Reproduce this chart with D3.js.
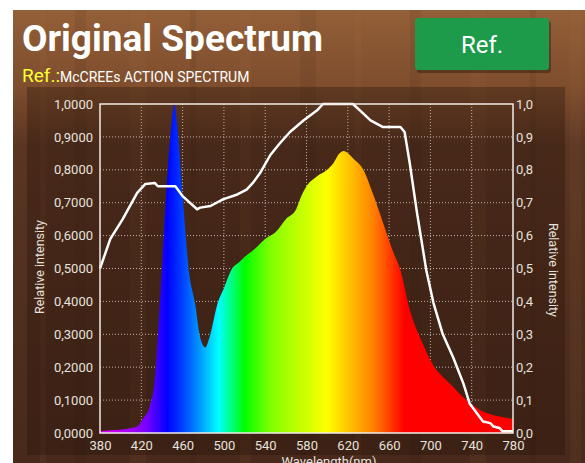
<!DOCTYPE html>
<html>
<head>
<meta charset="utf-8">
<script src="https://cdn.jsdelivr.net/npm/d3@7"></script>
<style>
  html, body { margin: 0; padding: 0; background: #fff; }
  svg { display: block; font-family: Roboto, "Noto Sans", sans-serif; }
</style>
</head>
<body>
<svg id="chart" width="585" height="463"></svg>
<script>
// LED spectrum, relative intensity by wavelength
const spectrumWl = [380, 390, 400, 410, 416, 422, 428, 433, 436, 440, 444, 449, 452, 455, 460, 466, 472, 477, 482, 486, 494, 500, 508, 515, 520, 530, 540, 550, 560, 570, 575, 580, 590, 600, 606, 612, 616, 620, 625, 635, 644, 654, 664, 671, 680, 690, 702, 719, 735, 748, 767, 780];
const spectrumVal = [0.005, 0.008, 0.01, 0.015, 0.02, 0.045, 0.08, 0.16, 0.29, 0.50, 0.72, 0.93, 1.0, 0.93, 0.72, 0.495, 0.395, 0.29, 0.26, 0.29, 0.395, 0.44, 0.50, 0.52, 0.535, 0.56, 0.59, 0.61, 0.65, 0.68, 0.72, 0.75, 0.78, 0.80, 0.82, 0.85, 0.857, 0.85, 0.835, 0.80, 0.73, 0.64, 0.55, 0.495, 0.374, 0.29, 0.21, 0.15, 0.10, 0.07, 0.05, 0.043];

// McCree action spectrum (reference curve)
const mccreeWl = [380, 390, 402, 416, 424, 433, 436, 453, 460, 474, 477, 487, 499, 513, 522, 528, 535, 545, 554, 564, 577, 590, 596, 625, 632, 642, 651, 654, 671, 675, 680, 687, 696, 703, 712, 722, 732, 738, 745, 751, 758, 761, 767, 770, 780];
const mccreeVal = [0.50, 0.59, 0.65, 0.73, 0.757, 0.76, 0.75, 0.75, 0.72, 0.68, 0.685, 0.69, 0.71, 0.725, 0.74, 0.76, 0.79, 0.845, 0.88, 0.915, 0.95, 0.98, 1.0, 1.0, 0.98, 0.95, 0.935, 0.93, 0.93, 0.915, 0.82, 0.67, 0.495, 0.395, 0.30, 0.23, 0.15, 0.09, 0.06, 0.035, 0.03, 0.02, 0.015, 0.005, 0.005];

const xTicks = [380, 420, 460, 500, 540, 580, 620, 660, 700, 740, 780];
const yTicks = [0, 0.1, 0.2, 0.3, 0.4, 0.5, 0.6, 0.7, 0.8, 0.9, 1.0];

// rainbow stops along the wavelength axis
const gradWl = [380, 405, 425, 445, 460, 475, 495, 520, 545, 600, 645, 675, 780];
const gradColor = ["#e600e6", "#b000ff", "#7a00ff", "#0000ff", "#0040ff", "#0090ff", "#00ffff", "#00ff00", "#80ff00", "#ffff00", "#ff8000", "#ff0000", "#ff0000"];

const svg = d3.select("#chart");
const W = 585, H = 463;
const plot = {left: 100, right: 513, top: 104, bottom: 433};

const x = d3.scaleLinear().domain([380, 780]).range([plot.left, plot.right]);
const y = d3.scaleLinear().domain([0, 1]).range([plot.bottom, plot.top]);

const defs = svg.append("defs");

// wood-ish background
const bg = defs.append("linearGradient").attr("id", "woodGrad")
  .attr("x1", 0).attr("y1", 0).attr("x2", 0).attr("y2", 1);
bg.append("stop").attr("offset", "0%").attr("stop-color", "#935f38");
bg.append("stop").attr("offset", "17%").attr("stop-color", "#7e4d2d");
bg.append("stop").attr("offset", "30%").attr("stop-color", "#5a3522");
bg.append("stop").attr("offset", "100%").attr("stop-color", "#48291b");

svg.append("rect").attr("x", 13).attr("y", 10).attr("width", W - 13).attr("height", H - 10)
  .attr("fill", "url(#woodGrad)");

// a few grain streaks
const streaks = [40, 75, 130, 190, 240, 300, 355, 410, 470, 530, 570];
svg.append("g").selectAll("rect").data(streaks).enter().append("rect")
  .attr("x", d => d).attr("y", 10).attr("width", (d, i) => 6 + (i % 3) * 5).attr("height", H - 10)
  .attr("fill", (d, i) => i % 2 ? "#2a140a" : "#b07a50").attr("opacity", 0.08);

// dark panel behind the chart
svg.append("rect").attr("x", 27).attr("y", 87).attr("width", 538).attr("height", 368)
  .attr("fill", "#1e0c05").attr("opacity", 0.3);

// header
svg.append("text").attr("x", 22).attr("y", 51)
  .attr("font-size", 37).attr("font-weight", "bold").attr("fill", "#fff")
  .text("Original Spectrum");

const btn = svg.append("g");
btn.append("rect").attr("x", 417).attr("y", 21).attr("width", 134).attr("height", 52).attr("rx", 3)
  .attr("fill", "#000").attr("opacity", 0.3);
btn.append("rect").attr("x", 415).attr("y", 18).attr("width", 134).attr("height", 52).attr("rx", 3)
  .attr("fill", "#1d9b4b");
btn.append("text").attr("x", 482).attr("y", 53).attr("text-anchor", "middle")
  .attr("font-size", 24).attr("fill", "#fff").text("Ref.");

const refLine = svg.append("text").attr("x", 22).attr("y", 82);
refLine.append("tspan").attr("font-size", 19).attr("fill", "#ffff33").text("Ref.:");
refLine.append("tspan").attr("font-size", 14).attr("fill", "#fff").text("McCREEs ACTION SPECTRUM");

// grid
const grid = svg.append("g").attr("stroke", "#e8e0d8").attr("stroke-width", 1)
  .attr("stroke-dasharray", "1,2").attr("opacity", 0.75);
grid.selectAll("line.v").data(xTicks.slice(1, -1)).enter().append("line")
  .attr("x1", d => x(d)).attr("x2", d => x(d)).attr("y1", plot.top).attr("y2", plot.bottom);
grid.selectAll("line.h").data(yTicks.slice(1, -1)).enter().append("line")
  .attr("y1", d => y(d)).attr("y2", d => y(d)).attr("x1", plot.left).attr("x2", plot.right);

// spectrum fill with rainbow gradient
const rainbow = defs.append("linearGradient").attr("id", "rainbow")
  .attr("gradientUnits", "userSpaceOnUse")
  .attr("x1", x(380)).attr("x2", x(780)).attr("y1", 0).attr("y2", 0);
gradWl.forEach((w, i) => {
  rainbow.append("stop").attr("offset", ((w - 380) / 400 * 100) + "%").attr("stop-color", gradColor[i]);
});

const specData = spectrumWl.map((w, i) => ({w, v: spectrumVal[i]}));
const area = d3.area().x(d => x(d.w)).y0(y(0)).y1(d => y(d.v)).curve(d3.curveMonotoneX);
svg.append("path").datum(specData).attr("d", area).attr("fill", "url(#rainbow)");

// McCree line
const mcData = mccreeWl.map((w, i) => ({w, v: mccreeVal[i]}));
const line = d3.line().x(d => x(d.w)).y(d => y(d.v));
svg.append("path").datum(mcData).attr("d", line)
  .attr("fill", "none").attr("stroke", "#fff").attr("stroke-width", 2.5).attr("stroke-linejoin", "round");

// frame
svg.append("rect").attr("x", plot.left).attr("y", plot.top)
  .attr("width", plot.right - plot.left).attr("height", plot.bottom - plot.top)
  .attr("fill", "none").attr("stroke", "#f0ece8").attr("stroke-width", 1.5);

// axes
const fmtL = d => d3.format(".4f")(d).replace(".", ",");
const fmtR = d => d3.format(".1f")(d).replace(".", ",");

const axL = svg.append("g").attr("transform", `translate(${plot.left},0)`)
  .call(d3.axisLeft(y).tickValues(yTicks).tickFormat(fmtL).tickSize(0).tickPadding(7));
const axR = svg.append("g").attr("transform", `translate(${plot.right},0)`)
  .call(d3.axisRight(y).tickValues(yTicks).tickFormat(fmtR).tickSize(0).tickPadding(3));
const axB = svg.append("g").attr("transform", `translate(0,${plot.bottom})`)
  .call(d3.axisBottom(x).tickValues(xTicks).tickFormat(d3.format("d")).tickSize(0).tickPadding(8));

[axL, axR, axB].forEach(a => {
  a.select(".domain").remove();
  a.selectAll("text").attr("fill", "#e6e2de").attr("font-size", 13)
    .attr("font-family", "Roboto, sans-serif");
});

svg.append("text").attr("transform", `translate(44,267) rotate(-90)`)
  .attr("text-anchor", "middle").attr("font-size", 12.5).attr("fill", "#e6e2de")
  .text("Relative intensity");
svg.append("text").attr("transform", `translate(549,270) rotate(90)`)
  .attr("text-anchor", "middle").attr("font-size", 12.5).attr("fill", "#e6e2de")
  .text("Relative intensity");
svg.append("text").attr("x", 329).attr("y", 466)
  .attr("text-anchor", "middle").attr("font-size", 13).attr("fill", "#e6e2de")
  .text("Wavelength(nm)");
</script>
</body>
</html>
